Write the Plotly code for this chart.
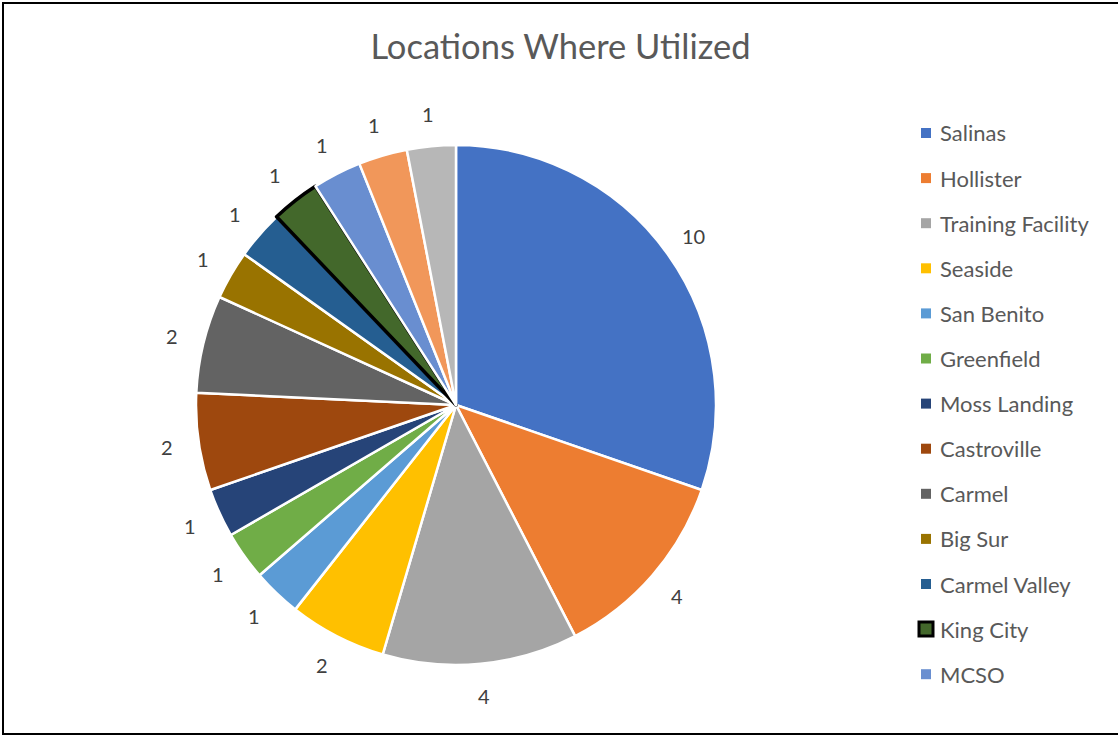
import math
import plotly.graph_objects as go

locations = ["Salinas", "Hollister", "Training Facility", "Seaside", "San Benito",
             "Greenfield", "Moss Landing", "Castroville", "Carmel", "Big Sur",
             "Carmel Valley", "King City", "MCSO", "Other 1", "Other 2"]
counts = [10, 4, 4, 2, 1, 1, 1, 2, 2, 1, 1, 1, 1, 1, 1]
legend_count = 13  # legend in the reference shows only the first 13 entries

colors = ["#4472C4", "#ED7D31", "#A5A5A5", "#FFC000", "#5B9BD5", "#70AD47",
          "#264478", "#9E480E", "#636363", "#997300", "#255E91", "#43682B",
          "#698ED0", "#F1975A", "#B7B7B7"]
line_colors = ["white"] * len(counts)
line_widths = [2.5] * len(counts)
line_colors[11] = "black"
line_widths[11] = 3.5

W, H = 1118, 736
cx, cy, R = 456, 405, 260   # pie centre / radius in pixels
label_r = 292               # label distance from centre in pixels

fig = go.Figure()
fig.add_trace(go.Pie(
    labels=locations, values=counts, sort=False, direction="clockwise", rotation=0,
    marker=dict(colors=colors, line=dict(color=line_colors, width=line_widths)),
    textinfo="none", showlegend=False, hoverinfo="label+value",
    domain=dict(x=[(cx - R) / W, (cx + R) / W], y=[(H - cy - R) / H, (H - cy + R) / H]),
))

shapes = []
annotations = []

# data labels placed at each slice's mid angle
total = sum(counts)
cum = 0
for v in counts:
    theta = math.radians((cum + v / 2) / total * 360)
    cum += v
    px = cx + label_r * math.sin(theta)
    py = cy - label_r * math.cos(theta)
    annotations.append(dict(text=str(v), xref="paper", yref="paper", x=px / W, y=1 - py / H,
                            xanchor="center", yanchor="middle", showarrow=False,
                            font=dict(family="Lato", size=20, color="#404040")))

# legend (first 13 entries)
leg_x, leg_y0, leg_dy = 926, 133, 45.1
for i in range(legend_count):
    yc = leg_y0 + i * leg_dy
    sel = line_colors[i] == "black"
    s = 5 if not sel else 7
    shapes.append(dict(type="rect", xref="paper", yref="paper",
                       x0=(leg_x - s) / W, x1=(leg_x + s) / W,
                       y0=1 - (yc + s) / H, y1=1 - (yc - s) / H,
                       fillcolor=colors[i],
                       line=dict(color="black" if sel else colors[i], width=3 if sel else 0)))
    annotations.append(dict(text=locations[i], xref="paper", yref="paper",
                            x=(leg_x + 12) / W, y=1 - yc / H, xanchor="left", yanchor="middle",
                            showarrow=False, font=dict(family="Lato", size=22, color="#595959")))

# chart border
for (x0, y0, x1, y1) in [(2, 3, W + 5, 3), (3, 2, 3, 734), (2, 734, W + 5, 734)]:
    shapes.append(dict(type="line", xref="paper", yref="paper",
                       x0=x0 / W, x1=x1 / W, y0=1 - y0 / H, y1=1 - y1 / H,
                       line=dict(color="black", width=2)))

fig.update_layout(
    width=W, height=H, margin=dict(l=0, r=0, t=0, b=0),
    paper_bgcolor="white", plot_bgcolor="white",
    title=dict(text="Locations Where Utilized", x=(373 + 748) / 2 / W, xanchor="center",
               y=1 - 47 / H, yanchor="middle",
               font=dict(family="Lato", size=34.5, color="#595959")),
    shapes=shapes, annotations=annotations,
)
fig.write_html("out.html", config={"displayModeBar": False},
               post_script="document.body.style.margin='0';document.body.style.overflow='hidden';")
